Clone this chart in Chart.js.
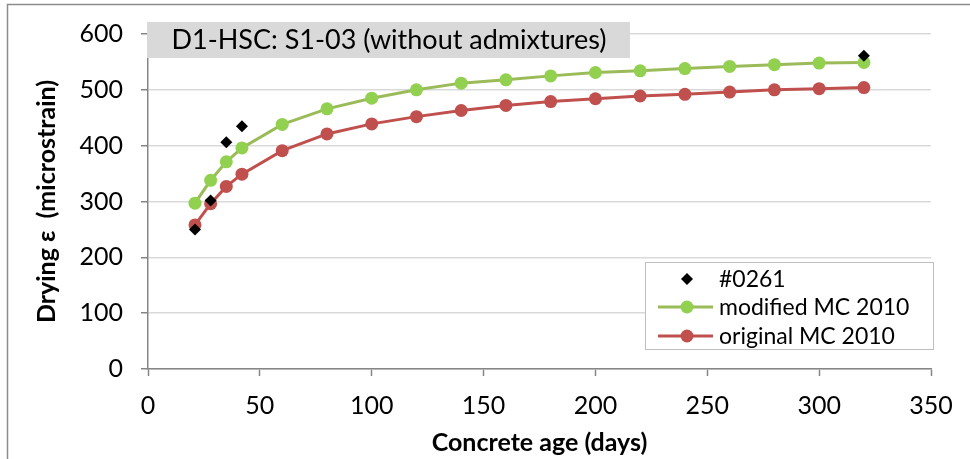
<!DOCTYPE html>
<html lang="en">
<head>
  <meta charset="UTF-8">
  <title>D1-HSC: S1-03 drying shrinkage</title>
  <script src="https://cdn.jsdelivr.net/npm/chart.js"></script>
  <style>
    html, body { margin: 0; padding: 0; background: #fff; }
    #wrap { position: relative; width: 970px; height: 459px; }
  </style>
</head>
<body>
  <div id="wrap">
    <canvas id="shrinkChart" width="970" height="459"></canvas>
  </div>

  <script>
    // model ages (days) and predicted drying strain (microstrain)
    const ages = [21, 28, 35, 42, 60, 80, 100, 120, 140, 160, 180, 200, 220, 240, 260, 280, 300, 320];
    const modifiedMC = [297, 338, 371, 396, 438, 466, 485, 500, 512, 518, 525, 531, 534, 538, 542, 545, 548, 549];
    const originalMC = [258, 296, 327, 349, 391, 421, 439, 452, 463, 472, 479, 484, 489, 492, 496, 500, 502, 504];

    // measured specimen #0261
    const measuredAges = [21, 28, 35, 42, 320];
    const measured = [250, 302, 406, 435, 561];

    const chartTitle = 'D1-HSC: S1-03 (without admixtures)';
    const seriesNames = ['#0261', 'modified MC 2010', 'original MC 2010'];

    const FONT = 'Lato';

    const toPoints = (xs, ys) => xs.map((x, i) => ({ x: x, y: ys[i] }));

    // frame, title box and legend are drawn by hand, like the spreadsheet chart
    const decorations = {
      id: 'decorations',
      beforeDraw(chart) {
        const c = chart.ctx;
        c.save();
        c.strokeStyle = '#8c8c8c';
        c.lineWidth = 1.5;
        c.beginPath();
        c.moveTo(7.5, 459);
        c.lineTo(7.5, 4.5);
        c.lineTo(970, 4.5);
        c.stroke();
        c.restore();
      },
      afterDraw(chart) {
        const c = chart.ctx;
        c.save();

        // title box
        c.fillStyle = '#d9d9d9';
        c.fillRect(147, 22, 483, 36);
        c.fillStyle = '#000';
        c.font = '27px ' + FONT;
        c.textAlign = 'center';
        c.textBaseline = 'middle';
        c.fillText(chartTitle, 389, 40);

        // legend
        c.fillStyle = '#fff';
        c.fillRect(645, 262, 288, 87);
        c.strokeStyle = '#bfbfbf';
        c.lineWidth = 1;
        c.strokeRect(645.5, 262.5, 288, 87);

        const rows = [279, 307, 336];
        const sets = chart.data.datasets;
        c.font = '23px ' + FONT;
        c.textAlign = 'left';
        rows.forEach((ry, i) => {
          const ds = sets[i];
          if (ds.showLine) {
            c.strokeStyle = ds.borderColor;
            c.lineWidth = 3;
            c.beginPath();
            c.moveTo(658, ry);
            c.lineTo(713, ry);
            c.stroke();
            c.fillStyle = ds.pointBackgroundColor;
            c.beginPath();
            c.arc(687, ry, 6.5, 0, Math.PI * 2);
            c.fill();
          } else {
            c.fillStyle = '#000';
            c.beginPath();
            c.moveTo(687, ry - 6);
            c.lineTo(693, ry);
            c.lineTo(687, ry + 6);
            c.lineTo(681, ry);
            c.closePath();
            c.fill();
          }
          c.fillStyle = '#000';
          c.fillText(seriesNames[i], 719, ry + 1);
        });

        c.restore();
      }
    };

    new Chart(document.getElementById('shrinkChart'), {
      type: 'scatter',
      data: {
        datasets: [{
          label: seriesNames[0],
          data: toPoints(measuredAges, measured),
          showLine: false,
          pointStyle: 'rectRot',
          pointRadius: 6,
          pointHoverRadius: 6,
          pointBackgroundColor: '#000',
          pointBorderColor: '#000',
          pointBorderWidth: 0
        }, {
          label: seriesNames[1],
          data: toPoints(ages, modifiedMC),
          showLine: true,
          borderColor: '#9bbb59',
          borderWidth: 3,
          pointRadius: 6.5,
          pointHoverRadius: 6.5,
          pointBackgroundColor: '#92d050',
          pointBorderWidth: 0
        }, {
          label: seriesNames[2],
          data: toPoints(ages, originalMC),
          showLine: true,
          borderColor: '#c0504d',
          borderWidth: 3,
          pointRadius: 6.5,
          pointHoverRadius: 6.5,
          pointBackgroundColor: '#c0504d',
          pointBorderWidth: 0
        }]
      },
      options: {
        responsive: false,
        animation: false,
        layout: { padding: { left: 0, top: 34, right: 39, bottom: 0 } },
        plugins: {
          legend: { display: false },
          tooltip: { enabled: false }
        },
        scales: {
          x: {
            type: 'linear',
            min: 0,
            max: 350,
            ticks: { stepSize: 50, color: '#000', padding: 15, font: { family: FONT, size: 25 } },
            grid: { drawOnChartArea: false, tickLength: 7, tickColor: '#868686', tickWidth: 1.5 },
            border: { color: '#868686', width: 1.5 },
            title: {
              display: true,
              text: 'Concrete age (days)',
              color: '#000',
              padding: { top: 0, bottom: 1 },
              font: { family: FONT, size: 25, weight: 'bold' }
            },
            afterFit(scale) { scale.height = 90; }
          },
          y: {
            min: 0,
            max: 600,
            ticks: { stepSize: 100, color: '#000', padding: 18, font: { family: FONT, size: 25 } },
            grid: { color: '#d9d9d9', lineWidth: 1.5, tickLength: 7, tickColor: '#868686', tickWidth: 1.5 },
            border: { color: '#868686', width: 1.5 },
            title: {
              display: true,
              text: 'Drying ε  (microstrain)',
              color: '#000',
              padding: { top: 32, bottom: 0 },
              font: { family: FONT, size: 25, weight: 'bold' }
            },
            afterFit(scale) { scale.width = 148; }
          }
        }
      },
      plugins: [decorations]
    });
  </script>
</body>
</html>
